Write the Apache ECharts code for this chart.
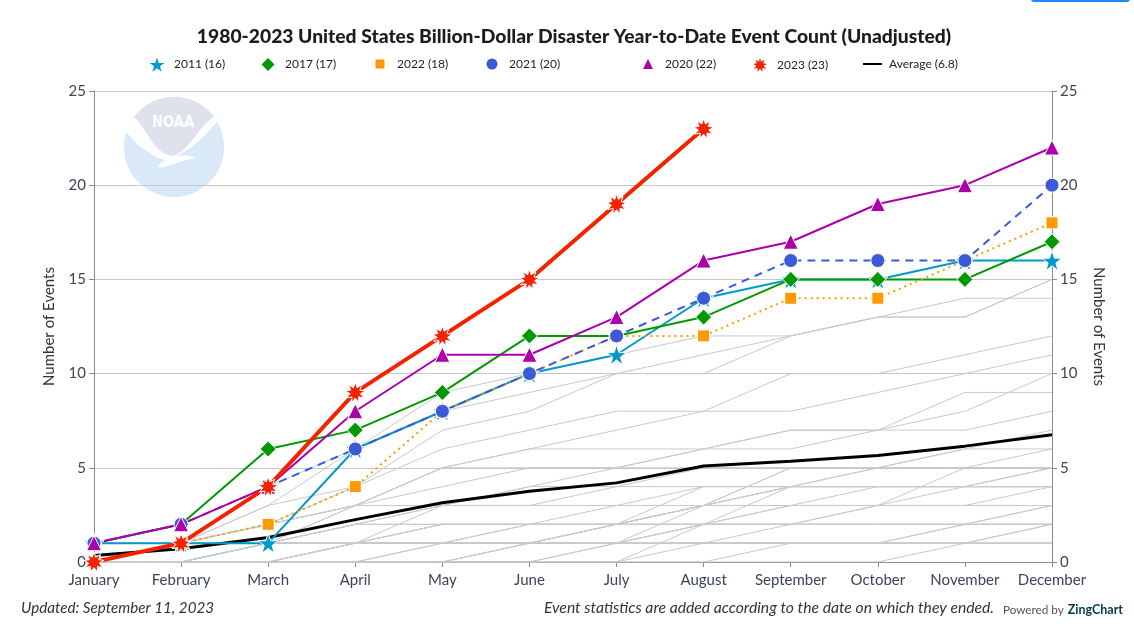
<!DOCTYPE html>
<html><head><meta charset="utf-8">
<style>html,body{margin:0;padding:0;background:#fff}#c{width:1134px;height:633px}</style>
<script src="https://cdn.jsdelivr.net/npm/echarts@6/dist/echarts.min.js"></script>
</head><body><div id="c"></div>
<script>
const months = ['January','February','March','April','May','June','July','August','September','October','November','December'];
const y2011 = [1,1,1,6,8,10,11,14,15,15,16,16];
const y2017 = [1,2,6,7,9,12,12,13,15,15,15,17];
const y2022 = [0,1,2,4,8,10,12,12,14,14,16,18];
const y2021 = [1,2,4,6,8,10,12,14,16,16,16,20];
const y2020 = [1,2,4,8,11,11,13,16,17,19,20,22];
const y2023 = [0,1,4,9,12,15,19,23];
const average = [0.35,0.7,1.3,2.25,3.15,3.75,4.2,5.1,5.35,5.65,6.15,6.75];
const otherYears = [
 [1,2,4,6,9,10,11,12,12,13,14,14],
 [0,1,3,6,8,9,10,11,12,13,13,15],
 [1,1,3,4,7,8,10,10,12,13,13,15],
 [0,1,2,4,6,7,8,8,10,10,11,12],
 [0,0,1,3,5,6,7,8,8,9,10,11],
 [0,1,2,3,4,5,5,6,7,7,8,10],
 [0,0,1,3,5,6,6,6,6,7,9,9],
 [0,1,2,3,3,4,5,6,7,7,7,8],
 [0,0,1,2,3,3,4,5,5,5,6,7],
 [0,0,1,2,3,4,4,4,4,5,6,6],
 [0,0,1,1,2,2,2,3,4,5,5,6],
 [0,0,1,1,1,2,2,3,5,5,5,5],
 [0,1,2,3,5,5,5,5,5,5,5,5],
 [0,0,0,1,1,1,1,3,5,5,5,5],
 [0,0,0,0,0,0,1,2,3,3,5,5],
 [0,0,1,1,1,1,2,4,4,4,4,4],
 [0,1,2,3,3,3,3,3,4,4,4,5],
 [0,0,0,1,3,3,3,3,3,3,3,3],
 [0,0,0,0,1,2,3,4,4,4,4,5],
 [0,0,1,1,2,2,2,2,2,3,4,4],
 [0,0,0,1,1,1,2,3,3,3,3,4],
 [0,0,1,2,2,2,2,3,3,3,3,3],
 [0,0,0,0,0,0,0,1,1,1,2,3],
 [0,0,0,0,0,0,1,1,1,1,2,3],
 [0,0,0,0,0,0,0,0,0,0,1,2],
 [0,0,1,2,2,2,2,2,2,2,2,2],
 [0,0,0,1,2,2,2,2,2,2,2,2],
 [0,0,0,0,0,0,0,0,1,1,1,2],
 [1,1,1,1,1,1,1,1,1,1,1,1],
 [0,1,1,1,1,1,1,1,1,1,1,1],
 [0,0,1,1,1,1,1,1,1,1,1,1],
 [0,0,0,0,0,1,1,2,2,2,2,2],
 [0,0,0,0,1,1,1,1,1,1,1,1],
 [0,0,0,0,0,0,0,2,4,4,4,4],
 [0,0,1,1,1,1,2,3,4,4,4,4],
 [0,0,0,0,0,1,1,1,2,2,2,2],
 [0,0,0,1,1,1,2,2,3,4,4,4],
 [0,0,0,0,0,1,1,2,2,3,3,3]
];
const legendNames = ['2011 (16)','2017 (17)','2022 (18)','2021 (20)','2020 (22)','2023 (23)','Average (6.8)'];

const FONT = 'Lato';
const starPath = 'path://M50,0 L61.8,35.5 99,35.5 69,57.5 80.5,93 50,71 19.5,93 31,57.5 1,35.5 38.2,35.5 Z';
function burst(n){let s='';for(let i=0;i<n*2;i++){const r=i%2?26:50,a=Math.PI*i/n-Math.PI/2;s+=(i?'L':'M')+(50+r*Math.cos(a)).toFixed(1)+','+(50+r*Math.sin(a)).toFixed(1)+' ';}return 'path://'+s+'Z';}
const burstPath = burst(9);

const domeD = 'M134,117 A50,50 0 0 1 214,117 C205,122 198,133 190,143 C184,150 178,155 172,156 C162,155 155,146 149,137 C144,129 139,121 134,117 Z';
const swooshD = 'M134,117 L124,131 C130,134 136,146 150,153 C155,157 160,159 166,160 C162,162 158,165 158,167 C165,169 178,161 195,158 C192,155 184,155 177,156 C190,150 207,135 220,118 L214,117 C205,122 198,133 190,143 C184,150 178,155 172,156 C162,155 155,146 149,137 C144,129 139,121 134,117 Z';
echarts.graphic.registerShape('noaaDome', echarts.graphic.extendPath(domeD,{}));
echarts.graphic.registerShape('noaaSwoosh', echarts.graphic.extendPath(swooshD,{}));

function mk(name,data,color,width,type,symbol,size){
  return {name,type:'line',data,symbol,symbolSize:size,showSymbol:true,animation:false,z:5,
    lineStyle:{color,width,type,cap:'butt'},itemStyle:{color,borderColor:'#fff',borderWidth:1},emphasis:{disabled:true}};
}
const grey = otherYears.map(d=>({type:'line',data:d,symbol:'none',silent:true,animation:false,z:2,
  lineStyle:{color:'#c6cacd',width:1},emphasis:{disabled:true}}));
const avgSeries = {name:legendNames[6],type:'line',data:average,symbol:'none',animation:false,z:4,
  lineStyle:{color:'#000',width:3},itemStyle:{color:'#000'},emphasis:{disabled:true}};

function leg(name,center,w,icon,color){
  return {data:[{name,icon}],left:center-w/2,top:65-Math.max(w,14)/2,itemWidth:w,itemHeight:w,padding:0,selectedMode:false,
    itemStyle:{color,borderWidth:0},lineStyle:{width:0},
    textStyle:{fontFamily:FONT,fontSize:12,color:'#222',padding:[0,0,0,12-w/2]}};
}
const chart = echarts.init(document.getElementById('c'),null,{renderer:'canvas'});
chart.setOption({
  animation:false,backgroundColor:'#fff',
  grid:{left:94,right:82,top:91,bottom:71,containLabel:false},
  xAxis:{type:'category',data:months,boundaryGap:false,
    axisLine:{lineStyle:{color:'#8a8d90',width:1}},axisTick:{show:true,alignWithLabel:true,length:5,lineStyle:{color:'#8a8d90'}},
    axisLabel:{interval:0,margin:11,fontFamily:FONT,fontSize:15,color:'#3c4456'},splitLine:{show:false}},
  yAxis:[
   {type:'value',min:0,max:25,interval:5,name:'Number of Events',nameLocation:'middle',nameGap:37,
    nameTextStyle:{fontFamily:FONT,fontSize:15,color:'#333'},
    axisLine:{show:true,lineStyle:{color:'#8a8d90'}},axisTick:{show:true,length:5,lineStyle:{color:'#8a8d90'}},
    axisLabel:{margin:8,fontFamily:FONT,fontSize:15,color:'#3c4456'},splitLine:{lineStyle:{color:'#c4c7cb',width:1}}},
   {type:'value',position:'right',min:0,max:25,interval:5,name:'Number of Events',nameLocation:'middle',nameGap:39,nameRotate:-90,
    nameTextStyle:{fontFamily:FONT,fontSize:15,color:'#333'},
    axisLine:{show:true,lineStyle:{color:'#8a8d90'}},axisTick:{show:true,length:5,lineStyle:{color:'#8a8d90'}},
    axisLabel:{margin:8,fontFamily:FONT,fontSize:15,color:'#3c4456'},splitLine:{show:false}}
  ],
  legend:[
    leg(legendNames[0],157,15,starPath,'#0099cc'),
    leg(legendNames[1],268,13,'diamond','#009900'),
    leg(legendNames[2],380,9,'rect','#ff9900'),
    leg(legendNames[3],492,11,'circle','#3a5ad9'),
    leg(legendNames[4],648,10,'triangle','#aa00aa'),
    leg(legendNames[5],760,14,burstPath,'#f52200'),
    {data:[{name:legendNames[6],icon:'rect'}],left:863,top:58,itemWidth:19,itemHeight:2,padding:0,selectedMode:false,
     itemStyle:{color:'#000',borderWidth:0},lineStyle:{width:0},textStyle:{fontFamily:FONT,fontSize:12,color:'#222',padding:[0,0,0,2]}}
  ],
  graphic:[
    {type:'rect',z:-1,shape:{x:1031,y:-6,width:99,height:8,r:3},style:{fill:'#1a8cff'}},
    {type:'circle',z:-1,shape:{cx:174,cy:147,r:50},style:{fill:'#d9e9f7'}},
    {type:'noaaDome',z:-1,style:{fill:'#dfe1ec'}},
    {type:'noaaSwoosh',z:-1,style:{fill:'#fff'}},
    {type:'text',z:-1,x:173,y:123,scaleX:0.82,style:{text:'NOAA',fill:'#fff',font:'bold 16px "DejaVu Sans"',align:'center',verticalAlign:'middle'}},
    {type:'text',x:574,y:37,style:{text:'1980-2023 United States Billion-Dollar Disaster Year-to-Date Event Count (Unadjusted)',fill:'#1c1c1e',font:'900 19.3px '+FONT,align:'center',verticalAlign:'middle'}},
    {type:'text',x:21,y:608,style:{text:'Updated: September 11, 2023',fill:'#333',font:'italic 15.2px '+FONT,align:'left',verticalAlign:'middle'}},
    {type:'text',x:994,y:608,style:{text:'Event statistics are added according to the date on which they ended.',fill:'#333',font:'italic 15.7px '+FONT,align:'right',verticalAlign:'middle'}},
    {type:'text',x:1003,y:610,style:{text:'Powered by',fill:'#555',font:'11.7px '+FONT,align:'left',verticalAlign:'middle'}},
    {type:'text',x:1123,y:610,style:{text:'ZingChart',fill:'#003849',font:'bold 12.5px '+FONT,align:'right',verticalAlign:'middle'}}
  ],
  series:[...grey,avgSeries,
    mk(legendNames[0],y2011,'#0099cc',2,'solid',starPath,20),
    mk(legendNames[1],y2017,'#009900',2,'solid','diamond',16),
    mk(legendNames[2],y2022,'#ff9900',2,[2,4],'rect',12),
    mk(legendNames[3],y2021,'#3a5ad9',2,[8,6],'circle',14),
    mk(legendNames[4],y2020,'#aa00aa',2,'solid','triangle',15),
    mk(legendNames[5],y2023,'#f52200',4,'solid',burstPath,20)
  ]
});
</script></body></html>
